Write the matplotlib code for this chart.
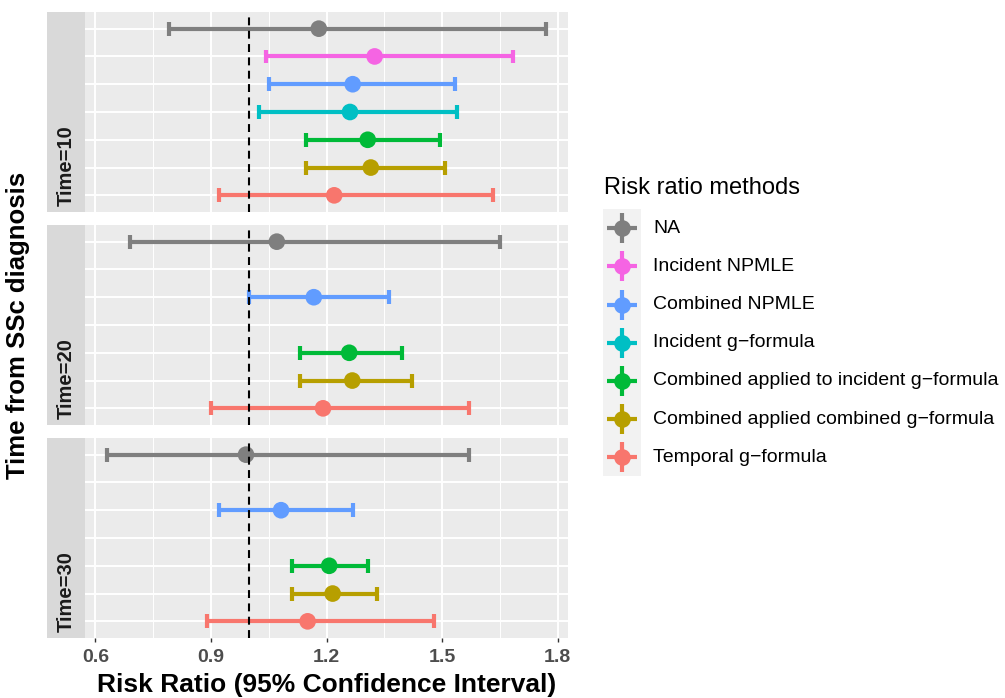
import numpy as np
import matplotlib
matplotlib.use("Agg")
import matplotlib.pyplot as plt
from matplotlib.patches import Rectangle

plt.rcParams["font.family"] = ["Liberation Sans", "DejaVu Sans"]

# ---- data -------------------------------------------------------------
methods = [
    "NA",
    "Incident NPMLE",
    "Combined NPMLE",
    "Incident g\u2212formula",
    "Combined applied to incident g\u2212formula",
    "Combined applied combined g\u2212formula",
    "Temporal g\u2212formula",
]
colors = ["#7F7F7F", "#F564E3", "#619CFF", "#00BFC4", "#00BA38", "#B79F00", "#F8766D"]

times = ["Time=10", "Time=20", "Time=30"]
nan = np.nan

est_10 = [1.180, 1.325, 1.268, 1.261, 1.307, 1.315, 1.220]
lo_10 = [0.790, 1.044, 1.050, 1.024, 1.147, 1.148, 0.921]
hi_10 = [1.770, 1.684, 1.534, 1.540, 1.495, 1.507, 1.631]

est_20 = [1.071, nan, 1.167, nan, 1.259, 1.267, 1.191]
lo_20 = [0.691, nan, 0.999, nan, 1.130, 1.130, 0.899]
hi_20 = [1.650, nan, 1.361, nan, 1.397, 1.421, 1.571]

est_30 = [0.991, nan, 1.082, nan, 1.207, 1.216, 1.151]
lo_30 = [0.630, nan, 0.922, nan, 1.111, 1.111, 0.891]
hi_30 = [1.570, nan, 1.268, nan, 1.309, 1.330, 1.480]

panels = [(est_10, lo_10, hi_10), (est_20, lo_20, hi_20), (est_30, lo_30, hi_30)]
x_ticks = [0.6, 0.9, 1.2, 1.5, 1.8]
x_minor = [0.75, 1.05, 1.35, 1.65]
ref_value = 1.0

# ---- layout (pixel based) --------------------------------------------
W, H = 1005, 698
fig = plt.figure(figsize=(W / 100, H / 100), dpi=100)


def fig_rect(x0, y0, x1, y1):
    """Convert a pixel box (top-left origin) to figure fractions."""
    return [x0 / W, 1 - y1 / H, (x1 - x0) / W, (y1 - y0) / H]


panel_tops = [12, 225, 438]
panel_h = 200
px_left, px_right = 85, 568
strip_left = 47

all_lo = np.nanmin(np.concatenate([np.array(p[1], float) for p in panels]))
all_hi = np.nanmax(np.concatenate([np.array(p[2], float) for p in panels]))
span = all_hi - all_lo
xlim = (all_lo - 0.05 * span, all_hi + 0.05 * span)

n = len(methods)
ypos = np.arange(n)
bar_lw = 3.0
pt_size = 12

for k, (est, lo, hi) in enumerate(panels):
    top = panel_tops[k]
    ax = fig.add_axes(fig_rect(px_left, top, px_right, top + panel_h))
    ax.set_facecolor("#EBEBEB")
    for s in ax.spines.values():
        s.set_visible(False)
    ax.set_xlim(*xlim)
    ax.set_ylim(n - 1 + 0.6, -0.6)

    # grid
    for xm in x_minor:
        ax.axvline(xm, color="white", lw=0.7, zorder=0.5)
    for xt in x_ticks:
        ax.axvline(xt, color="white", lw=1.4, zorder=0.6)
    for yv in ypos:
        ax.axhline(yv, color="white", lw=1.4, zorder=0.6)

    est = np.array(est, float)
    lo = np.array(lo, float)
    hi = np.array(hi, float)
    ok = ~np.isnan(est)
    cols = [colors[i] for i in range(n) if ok[i]]
    yy = ypos[ok]
    ax.hlines(yy, lo[ok], hi[ok], colors=cols, lw=bar_lw, zorder=2, capstyle="butt")
    ax.vlines(lo[ok], yy - 0.25, yy + 0.25, colors=cols, lw=bar_lw, zorder=2)
    ax.vlines(hi[ok], yy - 0.25, yy + 0.25, colors=cols, lw=bar_lw, zorder=2)
    ax.scatter(est[ok], yy, s=pt_size ** 2, c=cols, zorder=3, linewidths=0)

    ax.axvline(ref_value, color="black", lw=1.5, ls=(0, (3.8, 2.6)), zorder=4)

    ax.set_yticks([])
    ax.set_xticks(x_ticks)
    if k == len(panels) - 1:
        ax.set_xticklabels([f"{t:.1f}" for t in x_ticks], fontsize=14,
                           fontweight="bold", color="#4D4D4D")
        ax.tick_params(axis="x", length=3, width=1, color="#333333", pad=5)
        ax.set_xlabel("Risk Ratio (95% Confidence Interval)", fontsize=19,
                      fontweight="bold", color="black", labelpad=5)
    else:
        ax.tick_params(axis="x", length=0, labelbottom=False)

    # facet strip on the left, label anchored at the bottom
    sax = fig.add_axes(fig_rect(strip_left, top, px_left, top + panel_h))
    sax.set_facecolor("#D9D9D9")
    sax.set_xticks([])
    sax.set_yticks([])
    for s in sax.spines.values():
        s.set_visible(False)
    sax.text(0.5, 6 / panel_h, times[k], rotation=90, ha="center", va="bottom",
             fontsize=14.5, fontweight="bold", color="#1A1A1A",
             transform=sax.transAxes)

fig.text(18 / W, 1 - 325 / H, "Time from SSc diagnosis", rotation=90,
         ha="center", va="center", fontsize=18.5, fontweight="bold", color="black")

# ---- legend ----------------------------------------------------------
lax = fig.add_axes(fig_rect(595, 170, 1005, 490))
lax.set_xlim(595, 1005)
lax.set_ylim(490, 170)
lax.axis("off")
lax.text(604, 188, "Risk ratio methods", fontsize=17, ha="left", va="center",
         color="black")
key_top, key_h = 209, 38.2
key_x0, key_x1 = 603, 641
for i, (lab, c) in enumerate(zip(methods, colors)):
    yc = key_top + key_h * (i + 0.5)
    lax.add_patch(Rectangle((key_x0, key_top + key_h * i), key_x1 - key_x0, key_h,
                            facecolor="#F2F2F2", edgecolor="none", zorder=1))
    xc = (key_x0 + key_x1) / 2
    lax.plot([key_x0 + 4, key_x1 - 4], [yc, yc], color=c, lw=bar_lw, zorder=2,
             solid_capstyle="butt")
    lax.plot([xc, xc], [yc - 15, yc + 15], color=c, lw=bar_lw, zorder=2,
             solid_capstyle="butt")
    lax.plot([xc], [yc], marker="o", ms=pt_size, color=c, mew=0, zorder=3)
    lax.text(653, yc, lab, fontsize=14, ha="left", va="center", color="black")

fig.savefig("out.png", dpi=100)
